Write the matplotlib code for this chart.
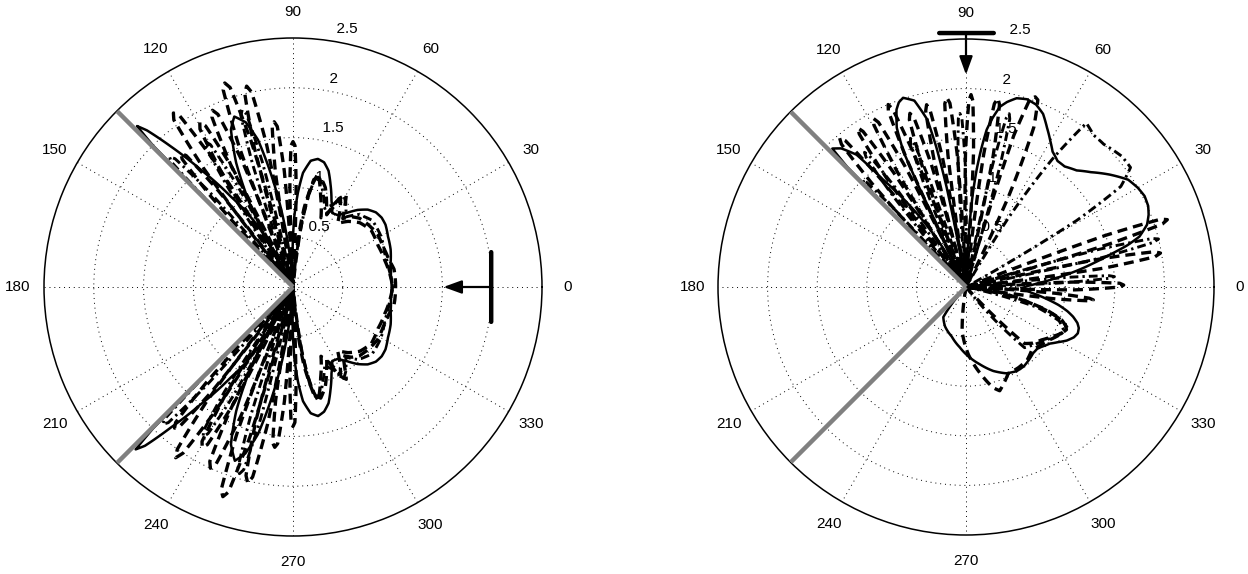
import numpy as np
import matplotlib
matplotlib.use("Agg")
import matplotlib.pyplot as plt

plt.rcParams['font.family'] = ['Liberation Sans', 'DejaVu Sans']
plt.rcParams['font.size'] = 11

# ---- left pattern (beam steered to 0 deg), angles in degrees ----
# solid trace, lower half then upper half
left_main_lo_theta = [-135, -134.9, -134.7, -134.1, -133, -131, -128.2, -124.5, -122, -119.5, -118.5,
                      -121, -119.5, -117.4, -114.6, -111.5, -108.5, -106, -103.4, -99.5, -95, -92,
                      -90.5, -89, -87, -85, -82, -79, -76, -73, -70, -66, -62, -58, -54, -50, -46,
                      -42, -38, -34, -28, -21, -14, -7]
left_main_lo_r = [0, 0.8, 2.0, 2.27, 2.18, 1.87, 1.5, 1.1, 0.9, 0.66, 0.4,
                  0, 0.45, 0.95, 1.37, 1.7, 1.84, 1.74, 1.52, 0.92, 0.2, 0,
                  0.4, 0.7, 0.95, 1.15, 1.28, 1.32, 1.29, 1.22, 1.1, 0.95, 0.84, 0.85, 0.92, 1.01, 1.08,
                  1.12, 1.13, 1.12, 1.08, 1.05, 1.01, 0.99]
left_main_up_theta = [0, 7, 14, 21, 28, 34, 38, 42, 46, 50, 54, 58, 62, 66, 70, 73, 76, 79, 82, 85,
                      87, 89, 90.5, 92, 95, 99.5, 103.4, 106, 109, 111.5, 114.6, 117.4, 119.5, 121,
                      118.5, 119.5, 122, 124.5, 128.2, 131, 133, 134.1, 134.7, 134.9, 135]
left_main_up_r = [0.99, 0.99, 1.01, 1.05, 1.08, 1.12, 1.13, 1.12, 1.08, 1.01, 0.92, 0.85, 0.84, 0.95,
                  1.1, 1.22, 1.29, 1.31, 1.28, 1.15, 0.95, 0.7, 0.4, 0, 0.2, 0.92, 1.52, 1.72, 1.81,
                  1.7, 1.37, 0.95, 0.45, 0, 0.4, 0.66, 0.9, 1.1, 1.5, 1.87, 2.15, 2.25, 2.0, 0.8, 0]

# dashed trace A
left_a_lo_theta = [-128.5, -127, -125.5, -124.5, -123.5, -122, -120.5,
                   -118.5, -117, -115.5, -114.5, -113.5, -112, -110.5,
                   -107, -105.5, -104, -103, -102, -100.5, -99,
                   -93, -91.8, -90.8, -90, -89.2, -88.2, -87,
                   -85, -82, -79, -76, -72, -68, -65, -62.5, -60, -57, -54, -50, -46, -40, -32,
                   -24, -16, -10]
left_a_lo_r = [0, 1.45, 2.0, 2.08, 2.0, 1.45, 0,
               0, 1.4, 1.94, 2.0, 1.94, 1.4, 0,
               0, 1.4, 1.95, 2.02, 1.95, 1.4, 0,
               0, 0.98, 1.36, 1.4, 1.36, 0.98, 0,
               0.3, 0.8, 1.1, 1.15, 1.05, 0.9, 0.8, 1.0, 1.07, 0.95, 0.85, 0.92, 0.96, 0.98, 1.0,
               0.99, 1.0, 1.03]
left_a_up_theta = [0, 10, 16, 24, 32, 40, 46, 50, 54, 57, 60, 62.5, 65, 68, 72, 76, 79, 82, 85,
                   87, 88.2, 89.2, 90, 90.8, 91.8, 93,
                   99, 100.5, 102, 103, 104, 105.5, 107,
                   110.5, 112, 113.5, 114.5, 115.5, 117, 118.5,
                   120.5, 122, 123.5, 124.5, 125.5, 127, 128.5]
left_a_up_r = [1.03, 1.03, 1.0, 0.99, 1.0, 0.98, 0.96, 0.92, 0.85, 0.95, 1.07, 1.0, 0.8, 0.9, 1.05,
               1.14, 1.1, 0.8, 0.3,
               0, 1.0, 1.42, 1.46, 1.42, 1.0, 0,
               0, 1.45, 2.0, 2.07, 2.0, 1.45, 0,
               0, 1.37, 1.89, 1.95, 1.89, 1.37, 0,
               0, 1.48, 2.06, 2.12, 2.06, 1.48, 0]

# dashed trace B
left_b_lo_theta = [-133.5, -132.2, -130.9, -130, -129.1, -127.8, -126.5,
                   -123.5, -122, -120.5, -119.5, -118.5, -117, -115.5,
                   -112.5, -111, -109.5, -108.5, -107.5, -106, -104.5,
                   -100, -98.7, -97.4, -96.5, -95.6, -94.3, -93,
                   -84.5, -82.5, -80, -77.5, -73, -68, -64, -61.5, -59, -55, -50, -44, -36, -26,
                   -16, -8]
left_b_lo_r = [0, 1.3, 1.8, 1.85, 1.8, 1.3, 0,
               0, 1.3, 1.8, 1.85, 1.8, 1.3, 0,
               0, 1.55, 2.16, 2.22, 2.16, 1.55, 0,
               0, 1.15, 1.58, 1.62, 1.58, 1.15, 0,
               0, 0.6, 1.0, 1.17, 0.95, 0.75, 0.85, 1.0, 0.92, 0.78, 0.86, 0.93, 0.97, 0.95,
               0.96, 0.98]
left_b_up_theta = [0, 8, 16, 26, 36, 44, 50, 55, 59, 61.5, 64, 68, 73, 77.5, 80, 82.5, 84.5,
                   93, 94.3, 95.6, 96.5, 97.4, 98.7, 100,
                   104.5, 106, 107.5, 108.5, 109.5, 111, 112.5,
                   115.5, 117, 118.5, 119.5, 120.5, 122, 123.5,
                   126.5, 127.8, 129.1, 130, 130.9, 132.2, 133.5]
left_b_up_r = [1.0, 0.98, 0.96, 0.95, 0.97, 0.93, 0.86, 0.78, 0.92, 1.0, 0.85, 0.75, 0.95, 1.17,
               1.0, 0.6, 0,
               0, 1.17, 1.62, 1.67, 1.62, 1.17, 0,
               0, 1.51, 2.1, 2.16, 2.1, 1.51, 0,
               0, 1.33, 1.84, 1.9, 1.84, 1.33, 0,
               0, 1.22, 1.7, 1.75, 1.7, 1.22, 0]

# dash-dot trace C
left_c_lo_theta = [-135.2, -134.8, -134.2, -133.5, -132.6, -131.3, -130,
                   -124.5, -123.2, -121.9, -121, -120.1, -118.8, -117.5,
                   -109.5, -108.2, -106.9, -106, -105.1, -103.8, -102.5,
                   -86, -84, -81, -78.5, -76, -72, -68, -64, -61, -58, -53, -48, -40, -30, -20, -10]
left_c_lo_r = [0, 1.3, 1.85, 1.9, 1.85, 1.3, 0,
               0, 1.26, 1.7, 1.75, 1.7, 1.26, 0,
               0, 1.36, 1.9, 1.95, 1.9, 1.36, 0,
               0, 0.3, 0.85, 1.12, 1.12, 0.98, 0.85, 0.92, 1.05, 1.0, 0.88, 0.98, 1.04, 1.02,
               0.98, 0.98]
left_c_up_theta = [0, 10, 20, 30, 40, 48, 53, 58, 61, 64, 68, 72, 76, 78.5, 81, 84, 86,
                   102.5, 103.8, 105.1, 106, 106.9, 108.2, 109.5,
                   117.5, 118.8, 120.1, 121, 121.9, 123.2, 124.5,
                   130, 131.3, 132.6, 133.5, 134.2, 134.8, 135.2]
left_c_up_r = [1.0, 0.98, 0.98, 1.02, 1.04, 0.98, 0.88, 1.0, 1.05, 0.92, 0.85, 0.98, 1.12, 1.12,
               0.85, 0.3, 0,
               0, 1.3, 1.8, 1.85, 1.8, 1.3, 0,
               0, 1.19, 1.65, 1.7, 1.65, 1.19, 0,
               0, 1.26, 1.75, 1.8, 1.75, 1.26, 0]

# ---- right pattern (beam steered to 90 deg) ----
right_main_theta = [-134, -130, -127, -118, -106, -96, -88, -80, -72, -65, -59, -54, -49, -44.6,
                    -41, -38.5, -34, -31, -28, -25, -22.5, -20, -17.9, -15.5, -13.4, -11, -8.8, -5,
                    -1.3, 1, 3, 5.5, 8.5, 10.5, 12.6, 14.5, 16.2, 19, 21.6, 24, 27, 30, 33.5, 38,
                    42.6, 46.5, 50.7, 54, 57.4, 60, 63, 66, 69, 72, 75, 77.5, 79.3, 81, 82.5, 83.7,
                    84.8, 85.8, 86.6, 87.5, 88.5, 99, 100, 101, 102, 103, 105.5, 108.4, 110, 111.4,
                    113.5, 114.8, 115.2, 115, 115.5, 118, 121, 123.8, 127.7, 129.6, 132, 134, 134.7,
                    135, 135.2]
right_main_r = [0, 0.22, 0.38, 0.45, 0.52, 0.61, 0.7, 0.79, 0.89, 0.96, 0.99, 0.99, 0.97, 0.95,
                0.95, 0.97, 1.02, 1.08, 1.15, 1.2, 1.22, 1.21, 1.18, 1.12, 1.05, 0.95, 0.84, 0.66,
                0.56, 0.62, 0.73, 0.9, 1.14, 1.3, 1.48, 1.68, 1.82, 1.93, 1.98, 2.01, 2.02, 2.0,
                1.96, 1.84, 1.71, 1.62, 1.57, 1.57, 1.62, 1.7, 1.8, 1.91, 1.97, 1.99, 1.97, 1.91,
                1.85, 1.73, 1.6, 1.4, 1.19, 0.95, 0.68, 0.35, 0, 0, 0.35, 1.03, 1.45, 1.73, 1.95,
                2.01, 1.98, 1.92, 1.75, 1.5, 1.1, 0.55, 0, 0, 0.55, 0.9, 1.37, 1.73, 1.88, 1.94,
                1.7, 0.8, 0]

right_a_theta = [-100, -95, -88, -80, -75, -72, -69, -64, -57, -50, -44, -38, -32, -27, -23, -20,
                 -17, -14, -10, -6, -3,
                 -1.5, 0, 0.7, 1.4, 2.6, 4,
                 15.5, 16.7, 17.8, 18.5, 19.2, 20.3, 21.5,
                 63, 64.8, 67, 69, 70, 71.2, 72.5, 74,
                 85.5, 86.8, 87.9, 88.5, 89.1, 90.2, 91.5,
                 99, 100.3, 101.5, 102.2, 102.9, 104.1, 105.4,
                 110, 111.3, 112.4, 113.1, 113.8, 114.9, 116.2,
                 121, 122.3, 123.5, 124.2, 124.9, 126.1, 127.4]
right_a_r = [0, 0.45, 0.68, 0.9, 1.05, 1.1, 1.05, 0.97, 0.97, 0.96, 0.92, 0.95, 1.0, 1.06, 1.1,
             1.06, 0.9, 0.67, 0.4, 0.15, 0,
             1.1, 1.55, 1.59, 1.55, 1.1, 0,
             0, 1.5, 2.08, 2.14, 2.08, 1.5, 0,
             0, 1.0, 1.75, 2.02, 2.04, 2.0, 1.6, 0,
             0, 1.36, 1.88, 1.94, 1.88, 1.36, 0,
             0, 1.32, 1.82, 1.88, 1.82, 1.32, 0,
             0, 1.4, 1.94, 2.0, 1.94, 1.4, 0,
             0, 1.36, 1.88, 1.94, 1.88, 1.36, 0]

right_b_theta = [-48, -44, -40, -35, -30, -26, -22, -19, -16, -12, -9,
                 -7.6, -6.4, -5.8, -5.2, -4, -2.6,
                 6.5, 7.8, 9.1, 9.9, 10.6, 11.8, 13,
                 77, 78.3, 79.6, 80.4, 81.2, 82.4, 83.7,
                 92.5, 93.8, 95, 95.8, 96.6, 97.8, 99,
                 104.5, 105.8, 107.1, 107.9, 108.7, 109.9, 111.2,
                 115.5, 116.8, 118, 118.8, 119.6, 120.8, 122,
                 127, 128.3, 129.5, 130.3, 131.1, 132.3, 133.6]
right_b_r = [0, 0.82, 0.88, 0.93, 1.0, 1.07, 1.1, 1.02, 0.85, 0.5, 0,
             0.9, 1.25, 1.29, 1.25, 0.9, 0,
             0, 1.4, 1.93, 1.99, 1.93, 1.4, 0,
             0, 1.35, 1.87, 1.93, 1.87, 1.35, 0,
             0, 1.34, 1.86, 1.92, 1.86, 1.34, 0,
             0, 1.29, 1.78, 1.84, 1.78, 1.29, 0,
             0, 1.36, 1.88, 1.94, 1.88, 1.36, 0,
             0, 1.38, 1.91, 1.97, 1.91, 1.38, 0]

right_c_theta = [-52, -46, -40, -34, -28, -24, -20, -16, -12,
                 1.5, 2.6, 3.5, 4, 4.5, 5.4, 6.5,
                 11, 12.2, 13.4, 14, 14.6, 15.8, 17,
                 29, 31, 33, 36, 40, 46, 50, 53.7, 56, 58.5, 60,
                 73, 74.3, 75.4, 76, 76.6, 77.7, 79,
                 89, 90.3, 91.4, 92, 92.6, 93.7, 95,
                 107.5, 108.8, 109.9, 110.5, 111.1, 112.2, 113.5,
                 124, 125.3, 126.4, 127, 127.6, 128.7, 130,
                 131.5, 132.6, 133.5, 134, 134.5, 135, 135.3]
right_c_r = [0, 0.85, 0.9, 0.96, 1.04, 1.08, 1.0, 0.75, 0,
             0, 1.05, 1.45, 1.5, 1.45, 1.05, 0,
             0, 1.4, 1.94, 2.0, 1.94, 1.4, 0,
             0, 1.3, 1.86, 2.05, 2.05, 2.0, 2.0, 2.05, 1.55, 0.8, 0,
             0, 1.26, 1.75, 1.8, 1.75, 1.26, 0,
             0, 1.22, 1.7, 1.75, 1.7, 1.22, 0,
             0, 1.12, 1.55, 1.6, 1.55, 1.12, 0,
             0, 1.19, 1.65, 1.7, 1.65, 1.19, 0,
             0, 1.05, 1.45, 1.5, 1.45, 1.05, 0]

# radial ticks and angle labels
r_ticks = [0.5, 1, 1.5, 2, 2.5]
r_labels = ['0.5', '1', '1.5', '2', '2.5']
theta_labels = list(range(0, 360, 30))
sector_edges = [135, 225]

DASH = (0, (3.0, 1.8))
DASHDOT = (0, (3.0, 1.4, 0.8, 1.4))


def trace(ax, theta_deg, r, ls, lw, z):
    ln, = ax.plot(np.deg2rad(theta_deg), r, color='k', lw=lw, linestyle=ls,
                  zorder=z, solid_joinstyle='round')
    # draw each segment as a spiral in (theta, r) rather than a chord
    ln.get_path()._interpolation_steps = 24
    return ln


def polar_frame(ax):
    ax.set_ylim(0, 2.5)
    ax.set_yticks(r_ticks[:-1])
    ax.set_yticklabels([])
    ax.set_xticks(np.deg2rad(theta_labels))
    ax.set_xticklabels([])
    ax.tick_params(length=0)
    ax.set_axisbelow(True)
    ax.grid(True, color='k', lw=0.7, linestyle=(0, (1, 4)))
    ax.spines['polar'].set_linewidth(1.1)
    for a in theta_labels:
        ax.text(np.deg2rad(a), 2.76, str(a), ha='center', va='center')
    for t, lab in zip(r_ticks, r_labels):
        ax.text(np.deg2rad(82), t + 0.04, '  ' + lab, ha='left', va='bottom', zorder=1)
    for e in sector_edges:
        ax.plot(np.deg2rad([e, e]), [0, 2.5], color='#808080', lw=3.2,
                solid_capstyle='butt', zorder=6)


def source_marker(ax, bar_a, bar_b, tip, tail):
    kw = dict(xycoords='data', textcoords='data', annotation_clip=False)
    ax.annotate('', xy=bar_a, xytext=bar_b, zorder=7,
                arrowprops=dict(arrowstyle='-', lw=3.2, color='k', shrinkA=0, shrinkB=0), **kw)
    ax.annotate('', xy=tip, xytext=tail, zorder=7,
                arrowprops=dict(arrowstyle='-|>,head_length=0.55,head_width=0.2', lw=1.6,
                                color='k', shrinkA=0, shrinkB=0, mutation_scale=20), **kw)


def cart(x, y):
    return (np.arctan2(y, x), np.hypot(x, y))


fig = plt.figure(figsize=(12.48, 5.74), dpi=100)
ax1 = fig.add_axes([(293 - 249) / 1248, (287 - 249) / 574, 498 / 1248, 498 / 574],
                   projection='polar')
ax2 = fig.add_axes([(966 - 248) / 1248, (287 - 248) / 574, 496 / 1248, 496 / 574],
                   projection='polar')

polar_frame(ax1)
trace(ax1, left_a_lo_theta + left_a_up_theta, left_a_lo_r + left_a_up_r, DASH, 2.4, 3)
trace(ax1, left_b_lo_theta + left_b_up_theta, left_b_lo_r + left_b_up_r, DASH, 2.4, 3)
trace(ax1, left_c_lo_theta + left_c_up_theta, left_c_lo_r + left_c_up_r, DASHDOT, 2.1, 3)
trace(ax1, left_main_lo_theta + left_main_up_theta, left_main_lo_r + left_main_up_r, '-', 1.8, 4)
source_marker(ax1, cart(1.99, -0.35), cart(1.99, 0.35), cart(1.51, 0), cart(1.99, 0))

polar_frame(ax2)
trace(ax2, right_a_theta, right_a_r, DASH, 2.4, 3)
trace(ax2, right_b_theta, right_b_r, DASH, 2.4, 3)
trace(ax2, right_c_theta, right_c_r, DASHDOT, 2.1, 3)
trace(ax2, right_main_theta, right_main_r, '-', 1.8, 4)
source_marker(ax2, cart(-0.27, 2.56), cart(0.28, 2.56), cart(0, 2.14), cart(0, 2.56))

fig.savefig('out.png', dpi=100)
